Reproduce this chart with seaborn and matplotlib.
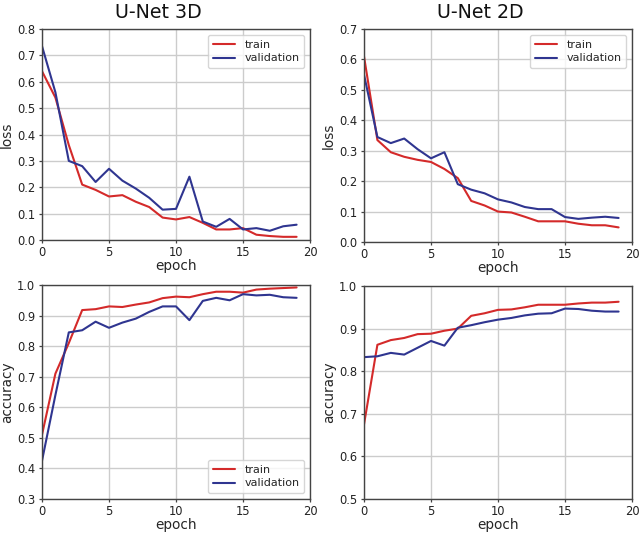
import matplotlib
matplotlib.use("Agg")
import matplotlib.pyplot as plt
import seaborn as sns
import pandas as pd
import numpy as np

epochs = list(range(20))

loss3d_train = [0.64, 0.54, 0.36, 0.21, 0.19, 0.165, 0.17, 0.145, 0.125, 0.085,
                0.078, 0.087, 0.065, 0.04, 0.04, 0.045, 0.02, 0.015, 0.012, 0.012]
loss3d_val = [0.735, 0.56, 0.30, 0.28, 0.22, 0.27, 0.225, 0.195, 0.16, 0.115,
              0.118, 0.24, 0.07, 0.05, 0.08, 0.04, 0.045, 0.035, 0.052, 0.058]

loss2d_train = [0.61, 0.335, 0.295, 0.28, 0.27, 0.263, 0.24, 0.21, 0.135, 0.12,
                0.10, 0.097, 0.083, 0.068, 0.068, 0.068, 0.06, 0.055, 0.055, 0.048]
loss2d_val = [0.55, 0.345, 0.325, 0.34, 0.305, 0.275, 0.295, 0.19, 0.172, 0.16,
              0.14, 0.13, 0.115, 0.108, 0.108, 0.082, 0.076, 0.08, 0.083, 0.079]

acc3d_train = [0.51, 0.71, 0.81, 0.918, 0.921, 0.93, 0.928, 0.936, 0.943, 0.957,
               0.962, 0.96, 0.97, 0.978, 0.978, 0.975, 0.985, 0.988, 0.99, 0.992]
acc3d_val = [0.425, 0.64, 0.845, 0.852, 0.88, 0.86, 0.877, 0.89, 0.912, 0.93,
             0.93, 0.885, 0.948, 0.958, 0.95, 0.97, 0.966, 0.968, 0.96, 0.958]

acc2d_train = [0.675, 0.862, 0.873, 0.878, 0.887, 0.888, 0.895, 0.90, 0.93, 0.936,
               0.944, 0.945, 0.95, 0.956, 0.956, 0.956, 0.959, 0.961, 0.961, 0.963]
acc2d_val = [0.833, 0.835, 0.843, 0.839, 0.855, 0.871, 0.86, 0.902, 0.908, 0.915,
             0.921, 0.925, 0.931, 0.935, 0.936, 0.947, 0.946, 0.942, 0.94, 0.94]

series_names = ["train", "validation"]
titles = ["U-Net 3D", "U-Net 2D"]

sns.set_theme(style="whitegrid")
plt.rcParams['font.family'] = ['DejaVu Sans']
plt.rcParams.update({
    "axes.edgecolor": "#444444",
    "axes.linewidth": 1.0,
    "grid.color": "#cccccc",
    "grid.linewidth": 1.0,
    "xtick.bottom": True,
    "ytick.left": True,
    "xtick.major.size": 2.5,
    "ytick.major.size": 2.5,
    "xtick.major.width": 0.9,
    "ytick.major.width": 0.9,
    "xtick.color": "#444444",
    "ytick.color": "#444444",
    "xtick.labelcolor": "#222222",
    "ytick.labelcolor": "#222222",
})

palette = {"train": "#d42a2a", "validation": "#2f3590"}


def make_df(train, val):
    return pd.DataFrame({
        "epoch": epochs * 2,
        "value": list(train) + list(val),
        "series": [series_names[0]] * len(train) + [series_names[1]] * len(val),
    })


fig = plt.figure(figsize=(6.4, 5.33), dpi=100)
W, H = 640, 533


def axes_px(x0, x1, y0, y1):
    return fig.add_axes([x0 / W, 1 - y1 / H, (x1 - x0) / W, (y1 - y0) / H])


ax1 = axes_px(42, 310, 29, 240)
ax2 = axes_px(364, 632, 29, 242)
ax3 = axes_px(42, 310, 285, 499)
ax4 = axes_px(364, 632, 286, 499)

panels = [
    (ax1, loss3d_train, loss3d_val, "loss", (0, 0.8), "upper right"),
    (ax2, loss2d_train, loss2d_val, "loss", (0, 0.7), "upper right"),
    (ax3, acc3d_train, acc3d_val, "accuracy", (0.3, 1.0), "lower right"),
    (ax4, acc2d_train, acc2d_val, "accuracy", (0.5, 1.0), None),
]

for ax, tr, va, ylabel, ylim, legloc in panels:
    df = make_df(tr, va)
    sns.lineplot(data=df, x="epoch", y="value", hue="series", palette=palette,
                 ax=ax, linewidth=1.5, legend=bool(legloc))
    ax.set_xlim(0, 20)
    ax.set_ylim(*ylim)
    ax.set_xticks([0, 5, 10, 15, 20])
    yt = np.round(np.arange(ylim[0], ylim[1] + 0.001, 0.1), 1)
    ax.set_yticks(yt)
    ax.set_yticklabels([f"{v:.1f}" for v in yt])
    ax.tick_params(axis="y", labelsize=8.3, pad=2.5)
    ax.tick_params(axis="x", labelsize=8.3, pad=1.5)
    ax.set_xlabel("epoch", fontsize=9.8, labelpad=0)
    ax.set_ylabel(ylabel, fontsize=9.8, labelpad=2)
    for s in ax.spines.values():
        s.set_visible(True)
        s.set_color("#444444")
    if legloc:
        leg = ax.legend(loc=legloc, fontsize=8, frameon=True, handlelength=2.0,
                        borderpad=0.45, labelspacing=0.35)
        leg.get_frame().set_edgecolor("#cccccc")
    else:
        if ax.get_legend():
            ax.get_legend().remove()

fig.text(158 / W, 1 - 18 / H, titles[0], fontsize=13.7, ha="center", va="baseline",
         color="#111111")
fig.text(480 / W, 1 - 18 / H, titles[1], fontsize=13.7, ha="center", va="baseline",
         color="#111111")

fig.savefig("out.png", dpi=100)
